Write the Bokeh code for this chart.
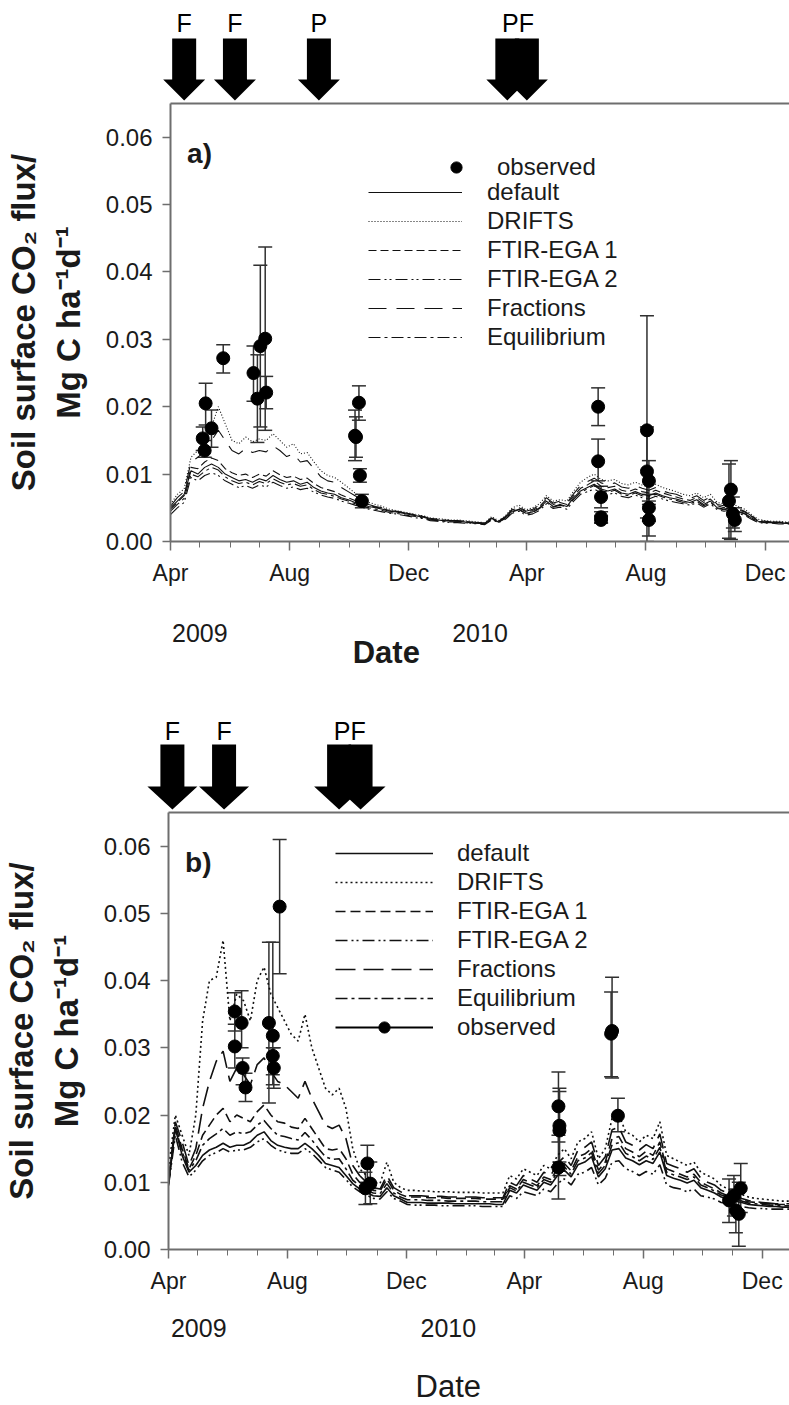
import numpy as np
import pandas as pd
from bokeh.plotting import figure
from bokeh.models import (Range1d, FixedTicker, DatetimeTickFormatter, PrintfTickFormatter,
                          ColumnDataSource, Whisker, TeeHead, Legend, LegendItem, Label,
                          LinearAxis)
from bokeh.layouts import column
from bokeh.embed import file_html
from bokeh.resources import INLINE
from bokeh.core.properties import value

FONT = "Liberation Sans"
UNIT = 1e-4  # series below are in 1e-4 Mg C ha-1 d-1

# ---------------- data ----------------
sim_dates = pd.date_range("2009-04-01", periods=92, freq="7D")

# panel a) simulated series
a_default = [50, 60, 70, 105, 100, 110, 115, 110, 100, 95,
             90, 92, 88, 93, 90, 98, 92, 88, 90, 85,
             88, 80, 75, 72, 70, 65, 62, 58, 55, 52,
             50, 48, 45, 44, 42, 40, 38, 36, 33, 32,
             31, 30, 30, 29, 28, 27, 26, 34, 29, 35,
             45, 48, 42, 44, 50, 60, 52, 55, 52, 65,
             75, 80, 85, 78, 75, 78, 72, 70, 74, 70,
             68, 72, 68, 65, 63, 60, 58, 62, 55, 60,
             50, 48, 50, 45, 42, 35, 30, 29, 28, 28,
             27, 27]
a_drifts = [55, 70, 78, 125, 135, 150, 170, 200, 175, 150,
            145, 155, 148, 152, 150, 160, 150, 140, 145, 130,
            132, 118, 105, 98, 95, 88, 80, 72, 65, 58,
            55, 52, 48, 46, 44, 42, 40, 38, 35, 34,
            33, 32, 32, 31, 30, 29, 28, 37, 31, 38,
            50, 54, 47, 50, 56, 68, 60, 62, 60, 75,
            88, 95, 100, 92, 90, 92, 86, 84, 88, 84,
            80, 85, 80, 77, 74, 70, 68, 72, 65, 70,
            58, 56, 58, 52, 48, 40, 33, 31, 30, 30,
            29, 29]
a_ftir1 = [48, 58, 68, 110, 108, 118, 124, 120, 108, 102,
           98, 100, 95, 100, 97, 105, 99, 95, 97, 92,
           94, 86, 80, 77, 74, 69, 65, 61, 57, 54,
           51, 49, 46, 45, 43, 41, 39, 37, 34, 33,
           32, 31, 30, 30, 29, 28, 27, 35, 30, 36,
           47, 50, 44, 46, 52, 63, 55, 58, 55, 68,
           79, 84, 90, 82, 80, 82, 76, 74, 78, 74,
           72, 76, 72, 69, 66, 63, 61, 65, 58, 63,
           53, 50, 52, 47, 44, 37, 31, 30, 29, 28,
           28, 27]
a_ftir2 = [40, 50, 58, 95, 90, 98, 102, 98, 90, 85,
           80, 83, 79, 84, 81, 88, 83, 79, 81, 77,
           79, 73, 69, 66, 64, 60, 57, 54, 51, 48,
           46, 44, 42, 41, 39, 37, 35, 34, 31, 30,
           29, 28, 28, 27, 27, 26, 25, 32, 28, 33,
           42, 45, 39, 41, 46, 56, 49, 51, 48, 60,
           70, 74, 78, 72, 70, 72, 67, 65, 69, 65,
           63, 67, 63, 60, 58, 56, 54, 57, 51, 56,
           47, 45, 47, 42, 39, 33, 28, 27, 27, 26,
           26, 26]
a_fractions = [52, 65, 74, 118, 125, 135, 150, 165, 150, 135,
               130, 138, 132, 135, 133, 142, 135, 126, 130, 118,
               120, 108, 96, 90, 88, 80, 74, 68, 62, 55,
               52, 50, 46, 45, 43, 41, 39, 37, 34, 33,
               32, 31, 31, 30, 29, 28, 27, 36, 30, 37,
               48, 52, 45, 48, 54, 65, 57, 60, 57, 71,
               83, 89, 94, 87, 84, 87, 81, 79, 83, 79,
               76, 80, 75, 72, 70, 66, 64, 68, 61, 66,
               55, 53, 55, 49, 45, 38, 32, 30, 29, 29,
               28, 28]
a_equil = [45, 55, 64, 100, 96, 104, 110, 106, 96, 90,
           86, 88, 84, 89, 86, 93, 88, 84, 86, 82,
           84, 77, 72, 70, 67, 63, 60, 56, 53, 50,
           48, 46, 43, 42, 40, 38, 37, 35, 32, 31,
           30, 29, 29, 28, 27, 27, 26, 33, 29, 34,
           44, 47, 41, 43, 49, 58, 51, 54, 51, 63,
           73, 78, 83, 76, 73, 76, 70, 68, 72, 68,
           66, 70, 66, 63, 61, 58, 56, 60, 53, 58,
           49, 47, 49, 44, 41, 34, 29, 28, 28, 27,
           27, 26]

# panel a) observations
obs_a_dates = ["2009-05-04", "2009-05-06", "2009-05-07", "2009-05-13", "2009-05-25",
               "2009-06-25", "2009-06-29", "2009-07-02", "2009-07-07", "2009-07-08",
               "2009-10-07", "2009-10-08", "2009-10-11", "2009-10-12", "2009-10-14",
               "2010-06-13", "2010-06-13", "2010-06-16", "2010-06-16", "2010-06-16",
               "2010-08-02", "2010-08-02", "2010-08-04", "2010-08-04", "2010-08-04",
               "2010-10-25", "2010-10-27", "2010-10-29", "2010-10-31"]
obs_a_val = [153, 135, 205, 168, 272, 250, 212, 290, 301, 221,
             157, 155, 206, 98, 60, 200, 119, 66, 36, 32,
             165, 104, 90, 50, 32, 60, 77, 41, 32]
obs_a_lo = [135, 125, 173, 140, 250, 208, 147, 170, 165, 197,
            120, 125, 180, 88, 50, 172, 90, 50, 28, 27,
            0, 35, 60, 30, 8, 5, 3, 20, 15]
obs_a_hi = [170, 150, 235, 195, 292, 290, 277, 410, 437, 245,
            195, 185, 231, 108, 70, 228, 152, 82, 44, 38,
            335, 170, 120, 70, 55, 115, 120, 66, 50]

# panel b) simulated series
b_default = [98, 180, 140, 115, 125, 140, 148, 152, 158, 152,
             155, 155, 160, 170, 175, 162, 155, 152, 150, 150,
             158, 150, 140, 128, 125, 122, 110, 98, 90, 85,
             80, 79, 92, 80, 75, 70, 70, 70, 69, 69,
             69, 69, 68, 68, 68, 68, 68, 68, 67, 67,
             88, 84, 96, 92, 88, 100, 96, 110, 118, 108,
             126, 130, 138, 108, 120, 148, 150, 136, 132, 126,
             132, 128, 145, 110, 106, 103, 99, 103, 92, 88,
             84, 78, 75, 72, 70, 67, 66, 65, 64, 64,
             63, 63]
b_drifts = [120, 200, 170, 140, 200, 340, 400, 405, 460, 340,
            380, 370, 340, 400, 420, 380, 360, 340, 320, 310,
            350, 300, 270, 240, 230, 240, 210, 150, 120, 110,
            100, 98, 130, 100, 92, 88, 88, 87, 87, 86,
            86, 86, 85, 85, 85, 85, 84, 84, 84, 84,
            110, 105, 120, 115, 110, 125, 120, 140, 150, 135,
            160, 165, 175, 135, 150, 195, 200, 175, 170, 160,
            170, 165, 190, 140, 135, 130, 125, 130, 115, 110,
            105, 95, 90, 85, 82, 78, 76, 75, 74, 73,
            72, 72]
b_ftir1 = [100, 185, 150, 120, 140, 170, 185, 200, 210, 190,
           200, 195, 190, 205, 215, 200, 190, 188, 182, 180,
           195, 180, 165, 150, 148, 150, 135, 112, 100, 94,
           88, 87, 105, 88, 82, 78, 78, 78, 77, 77,
           77, 76, 76, 76, 76, 76, 75, 75, 75, 75,
           95, 90, 104, 100, 95, 108, 104, 120, 128, 117,
           138, 142, 150, 118, 130, 165, 168, 150, 145, 138,
           146, 140, 160, 120, 116, 112, 108, 112, 100, 95,
           90, 84, 80, 77, 74, 71, 70, 69, 68, 67,
           67, 67]
b_ftir2 = [95, 170, 130, 108, 118, 132, 140, 144, 150, 145,
           148, 148, 152, 160, 165, 155, 148, 145, 143, 143,
           150, 143, 133, 122, 118, 115, 104, 93, 86, 81,
           76, 75, 86, 76, 72, 67, 66, 66, 66, 66,
           65, 65, 65, 65, 65, 65, 64, 64, 64, 64,
           80, 76, 86, 83, 80, 90, 86, 98, 105, 96,
           112, 115, 122, 96, 106, 130, 132, 120, 116, 110,
           116, 112, 126, 96, 92, 90, 86, 90, 80, 78,
           75, 70, 68, 66, 64, 62, 61, 61, 60, 60,
           60, 60]
b_fractions = [100, 190, 160, 125, 150, 210, 250, 280, 295, 250,
               270, 260, 245, 275, 285, 265, 250, 245, 235, 225,
               250, 225, 205, 185, 180, 185, 165, 125, 110, 100,
               92, 90, 110, 92, 86, 80, 80, 80, 79, 79,
               79, 78, 78, 78, 78, 78, 77, 77, 77, 77,
               100, 95, 110, 105, 100, 115, 110, 128, 138, 125,
               148, 152, 160, 125, 138, 178, 182, 160, 155, 148,
               156, 150, 172, 128, 124, 120, 115, 120, 106, 100,
               96, 88, 84, 80, 76, 73, 71, 70, 69, 68,
               68, 68]
b_equil = [97, 182, 145, 118, 132, 155, 165, 172, 180, 170,
           175, 172, 175, 185, 192, 180, 170, 168, 165, 163,
           174, 163, 150, 138, 134, 135, 120, 103, 95, 88,
           84, 83, 98, 84, 78, 74, 74, 74, 73, 73,
           73, 72, 72, 72, 72, 72, 71, 71, 71, 71,
           92, 87, 100, 96, 92, 104, 100, 115, 123, 112,
           132, 136, 144, 113, 125, 156, 159, 143, 138, 132,
           139, 134, 152, 115, 111, 108, 104, 108, 96, 92,
           87, 81, 78, 75, 72, 69, 68, 67, 66, 66,
           65, 65]

# panel b) observations
obs_b_dates = ["2009-06-08", "2009-06-08", "2009-06-15", "2009-06-16", "2009-06-19",
               "2009-07-13", "2009-07-17", "2009-07-17", "2009-07-18", "2009-07-24",
               "2009-10-20", "2009-10-22", "2009-10-25",
               "2010-05-06", "2010-05-07", "2010-05-07", "2010-05-06",
               "2010-06-29", "2010-06-30", "2010-07-06",
               "2010-10-28", "2010-11-02", "2010-11-04", "2010-11-07", "2010-11-09"]
obs_b_val = [354, 302, 337, 270, 241, 337, 318, 288, 270, 510,
             91, 128, 98, 213, 184, 177, 122, 321, 325, 199,
             73, 80, 58, 53, 91]
obs_b_lo = [325, 270, 300, 245, 220, 218, 245, 260, 240, 410,
            67, 100, 68, 160, 130, 110, 75, 257, 255, 175,
            40, 50, 25, 5, 55]
obs_b_hi = [382, 335, 385, 285, 262, 457, 457, 300, 300, 610,
            115, 155, 130, 264, 235, 240, 170, 383, 405, 225,
            105, 110, 90, 100, 128]

# management events (arrows)
events_a = ["2009-04-15", "2009-06-06", "2009-08-31", "2010-03-12", "2010-04-01"]
event_labels_a = ["F", "F", "P", "PF"]
event_label_dates_a = ["2009-04-15", "2009-06-06", "2009-08-31", "2010-03-23"]
events_b = ["2009-04-05", "2009-05-28", "2009-09-23", "2009-10-15"]
event_labels_b = ["F", "F", "PF"]
event_label_dates_b = ["2009-04-05", "2009-05-28", "2009-10-04"]

# axis ticks and under-axis labels
x_tick_dates = ["2009-04-01", "2009-08-01", "2009-12-01", "2010-04-01", "2010-08-01", "2010-12-01"]
x_minor_dates = pd.date_range("2009-04-01", "2010-12-01", freq="MS")
y_ticks = [0.0, 0.01, 0.02, 0.03, 0.04, 0.05, 0.06]
year_labels = ["2009", "2010"]
year_dates_a = ["2009-05-01", "2010-02-12"]
year_dates_b = ["2009-05-02", "2010-01-13"]
date_title_a = "2009-11-08"
date_title_b = "2010-01-13"

series_names = ["default", "DRIFTS", "FTIR-EGA 1", "FTIR-EGA 2", "Fractions", "Equilibrium"]

AX = "#6e6e6e"
TXT = "#1a1a1a"
START = "2009-04-01"


def ms(d):
    return pd.Timestamp(d).value / 1e6


def bare_fig(x_range, frame_left, height):
    q = figure(width=789, height=height, x_range=x_range, y_range=Range1d(0, height),
               x_axis_location=None, y_axis_location=None, output_backend="svg",
               toolbar_location=None, min_border_left=frame_left, min_border_right=0,
               min_border_top=0, min_border_bottom=0, outline_line_color=None,
               background_fill_color="white", border_fill_color="white",
               frame_align=False)
    q.grid.visible = False
    return q


def main_fig(x_end, frame_left, height, bottom, panel, y_title, series, dashes, lw, obs):
    p = figure(width=789, height=height, x_axis_type="datetime",
               x_range=Range1d(ms(START), ms(x_end)), y_range=Range1d(0, 0.065),
               output_backend="svg", toolbar_location=None,
               min_border_left=frame_left, min_border_right=0, min_border_top=2,
               min_border_bottom=bottom, outline_line_color=None,
               background_fill_color="white", border_fill_color="white",
               frame_align=False)
    p.grid.visible = False

    xa = p.below[0]
    ya = p.left[0]

    # top frame line
    top_ax = LinearAxis(ticker=FixedTicker(ticks=[]), major_label_text_font_size="0px",
                        major_tick_out=0, major_tick_in=0, minor_tick_out=0, minor_tick_in=0,
                        major_label_standoff=0, axis_line_color=AX, axis_line_width=2)
    p.add_layout(top_ax, "above")

    xa.ticker = FixedTicker(ticks=[ms(d) for d in x_tick_dates],
                            minor_ticks=[ms(d) for d in x_minor_dates])
    xa.formatter = DatetimeTickFormatter(days="%b", months="%b", years="%b")
    xa.major_tick_out = 9
    xa.major_tick_in = 0
    xa.minor_tick_out = 6
    xa.minor_tick_in = 0
    xa.major_label_standoff = 9
    xa.axis_line_color = AX
    xa.axis_line_width = 2
    xa.major_tick_line_color = AX
    xa.minor_tick_line_color = AX
    xa.major_tick_line_width = 1.5
    xa.major_label_text_font = FONT
    xa.major_label_text_font_size = "23px"
    xa.major_label_text_color = TXT

    ya.ticker = FixedTicker(ticks=y_ticks)
    ya.formatter = PrintfTickFormatter(format="%.2f")
    ya.major_tick_out = 8
    ya.major_tick_in = 0
    ya.minor_tick_line_color = None
    ya.major_label_standoff = 10
    ya.axis_line_color = AX
    ya.axis_line_width = 2
    ya.major_tick_line_color = AX
    ya.major_tick_line_width = 1.5
    ya.major_label_text_font = FONT
    ya.major_label_text_font_size = "24px"
    ya.major_label_text_color = TXT
    ya.axis_label = y_title
    ya.axis_label_text_font = FONT
    ya.axis_label_text_font_style = "bold"
    ya.axis_label_text_font_size = "33px"
    ya.axis_label_text_color = TXT
    ya.axis_label_standoff = 16

    renderers = []
    for vals, dash in zip(series, dashes):
        src = ColumnDataSource(dict(x=sim_dates, y=np.array(vals) * UNIT))
        r = p.line("x", "y", source=src, line_color="#111111", line_width=lw, line_dash=dash)
        renderers.append(r)

    odates, oval, olo, ohi = obs
    osrc = ColumnDataSource(dict(x=pd.to_datetime(odates), y=np.array(oval) * UNIT,
                                 lo=np.array(olo) * UNIT, hi=np.array(ohi) * UNIT))
    whisk = Whisker(source=osrc, base="x", upper="hi", lower="lo", dimension="height",
                    line_color="#303030", line_width=1.5,
                    upper_head=TeeHead(size=14, line_color="#303030", line_width=1.5),
                    lower_head=TeeHead(size=14, line_color="#303030", line_width=1.5))
    p.add_layout(whisk)
    r_obs = p.scatter("x", "y", source=osrc, size=13, color="black")

    p.add_layout(Label(x=ms("2009-04-18"), y=0.0576, text=panel, text_align="left",
                       text_baseline="middle", text_font=FONT, text_font_size="28px",
                       text_font_style="bold", text_color=TXT))
    return p, renderers, r_obs


def style_legend(lg, gw, standoff):
    lg.border_line_color = None
    lg.background_fill_alpha = 0
    lg.padding = 0
    lg.margin = 0
    lg.spacing = 1
    lg.label_height = 28
    lg.glyph_height = 28
    lg.glyph_width = gw
    lg.label_standoff = standoff
    lg.label_text_font = FONT
    lg.label_text_font_size = "24px"
    lg.label_text_color = TXT


def arrow_fig(main_range, frame_left, height, events, lab_dates, labels,
              head_half, head_h, shaft_half, shaft_top, tip, lab_y):
    # wider frame than the panel so arrows near the y axis are not clipped
    inner_left = 100
    frame_w = 789 - frame_left
    ms_per_px = (main_range.end - main_range.start) / frame_w
    xr = Range1d(main_range.start - (frame_left - inner_left) * ms_per_px, main_range.end)
    q = bare_fig(xr, inner_left, height)
    xs, ys = [], []
    for d in events:
        c = ms(d)
        hh = head_half * ms_per_px
        sh = shaft_half * ms_per_px
        ht = tip + head_h
        xs.append([c - sh, c + sh, c + sh, c + hh, c, c - hh, c - sh])
        ys.append([shaft_top, shaft_top, ht, ht, tip, ht, ht])
    q.patches(xs, ys, fill_color="black", line_color=None)
    q.text(x=[ms(d) for d in lab_dates], y=[lab_y] * len(labels), text=labels,
           text_align="center", text_baseline="middle", text_font=value(FONT),
           text_font_size="25px", text_color="black")
    return q


def label_fig(main_range, frame_left, height, year_dates, year_y, date_x, date_y, date_bold):
    q = bare_fig(main_range, frame_left, height)
    q.text(x=[ms(d) for d in year_dates], y=[year_y] * len(year_labels), text=year_labels,
           text_align="center", text_baseline="middle", text_font=value(FONT),
           text_font_size="25px", text_color=TXT)
    q.text(x=[ms(date_x)], y=[date_y], text=["Date"], text_align="center",
           text_baseline="middle", text_font=value(FONT), text_font_size="31px",
           text_font_style="bold" if date_bold else "normal", text_color=TXT)
    return q


dashes_a = ["solid", "1 2", "8 4", "12 4 2 3 2 4", "18 10", "12 4 3 4"]
dashes_b = ["solid", "2 3", "10 5", "12 4 2 3 2 4", "20 8", "12 4 3 4"]

title = "Soil surface CO\u2082 flux/\nMg C ha\u207b\u00b9d\u207b\u00b9"

# ---- panel a ----
pa, rens_a, obs_ra = main_fig(
    "2010-12-26", 170, 490, 50, "a)", title,
    [a_default, a_drifts, a_ftir1, a_ftir2, a_fractions, a_equil], dashes_a, 1.1,
    (obs_a_dates, obs_a_val, obs_a_lo, obs_a_hi))

leg_obs_a = Legend(items=[LegendItem(label="observed", renderers=[obs_ra])],
                   location=(272, 360))
style_legend(leg_obs_a, 28, 27)
pa.add_layout(leg_obs_a)
leg_a = Legend(items=[LegendItem(label=n, renderers=[r]) for n, r in zip(series_names, rens_a)],
               location=(198, 190))
style_legend(leg_a, 94, 25)
pa.add_layout(leg_a)

arr_a = arrow_fig(pa.x_range, 170, 101, events_a, event_label_dates_a, event_labels_a,
                  21, 21, 12, 63, 1, 79)
lab_a = label_fig(pa.x_range, 170, 80, year_dates_a, 39, date_title_a, 19, True)

# ---- panel b ----
pb, rens_b, obs_rb = main_fig(
    "2010-12-29", 168, 489, 50, "b)", title,
    [b_default, b_drifts, b_ftir1, b_ftir2, b_fractions, b_equil], dashes_b, 1.6,
    (obs_b_dates, obs_b_val, obs_b_lo, obs_b_hi))
obs_line_b = pb.line(x=[np.nan], y=[np.nan], line_color="black", line_width=2.2)
items_b = [LegendItem(label=n, renderers=[r]) for n, r in zip(series_names, rens_b)]
items_b.append(LegendItem(label="observed", renderers=[obs_line_b, obs_rb]))
leg_b = Legend(items=items_b, location=(167, 208))
style_legend(leg_b, 98, 24)
pb.add_layout(leg_b)

arr_b = arrow_fig(pb.x_range, 168, 139, events_b, event_label_dates_b, event_labels_b,
                  25, 23, 12, 66, 1, 80)
lab_b = label_fig(pb.x_range, 168, 106, year_dates_b, 78, date_title_b, 19, False)

layout = column(arr_a, pa, lab_a, arr_b, pb, lab_b, spacing=0)
open("out.html", "w").write(file_html(layout, INLINE))
